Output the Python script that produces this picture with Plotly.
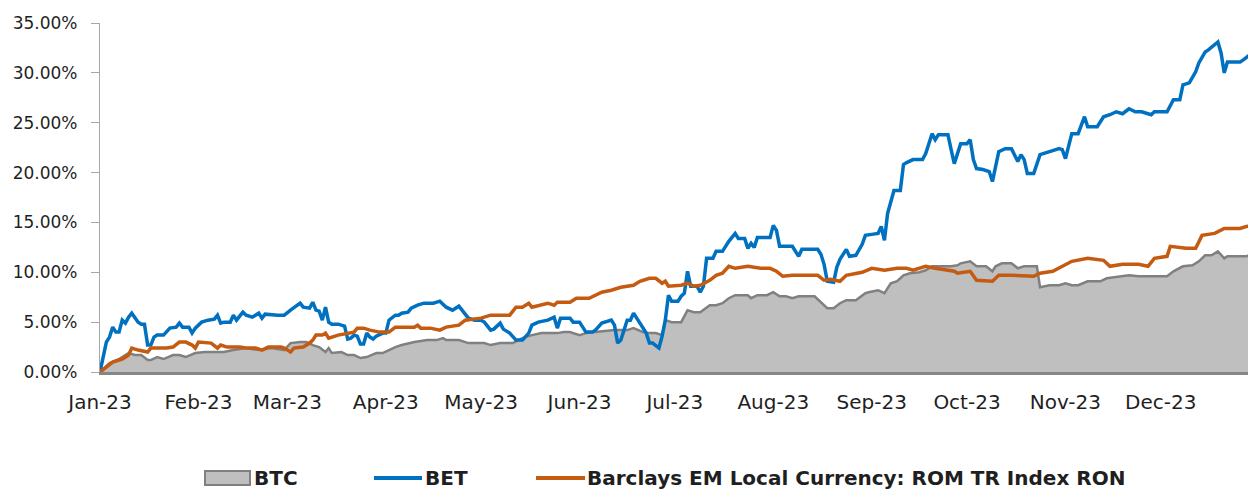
import pandas as pd
import plotly.graph_objects as go

# ---------------- data (days since 1 Jan 2023, cumulative return in %) ----------------
btc_day = [0, 3, 6, 9, 11, 13, 15, 16, 18, 20, 23, 25, 27, 30, 33, 39, 42, 46, 50, 54, 58, 60, 63, 65, 67, 69,
           71, 72, 73, 76, 78, 80, 82, 84, 87, 89, 91, 93, 95, 99, 103, 106, 108, 109, 113, 116, 121, 123, 126,
           130, 133, 136, 139, 144, 146, 148, 151, 153, 156, 162, 166, 168, 171, 172, 175, 177, 178, 180, 183,
           185, 187, 189, 192, 194, 196, 198, 200, 204, 205, 207, 210, 212, 214, 216, 218, 220, 225, 227, 229,
           231, 233, 235, 238, 241, 242, 245, 247, 249, 251, 253, 255, 258, 260, 262, 268, 270, 271, 274, 276,
           279, 281, 282, 284, 287, 289, 291, 295, 296, 299, 302, 304, 306, 308, 311, 315, 317, 321, 324, 327,
           336, 338, 341, 344, 346, 348, 350, 352, 354, 355, 361, 363, 364]
btc_pct = [0.0, 0.9, 1.3, 1.9, 1.7, 1.7, 1.2, 1.2, 1.5, 1.3, 1.7, 1.7, 1.5, 1.9, 2.0, 2.0, 2.2, 2.4, 2.2, 2.4, 2.2,
           2.9, 3.0, 3.0, 2.7, 2.5, 2.0, 2.4, 1.9, 2.0, 1.7, 1.7, 1.4, 1.5, 1.9, 1.9, 2.2, 2.5, 2.7, 3.0, 3.2, 3.2,
           3.4, 3.2, 3.2, 2.9, 2.9, 2.7, 2.9, 2.9, 3.4, 3.7, 3.9, 3.9, 4.0, 4.0, 3.7, 3.9, 4.0, 4.2, 4.2, 4.4, 4.0,
           3.9, 3.9, 3.7, 5.2, 5.0, 5.0, 6.2, 6.0, 6.0, 6.7, 6.7, 6.9, 7.4, 7.7, 7.7, 7.4, 7.7, 7.7, 8.0, 7.6, 7.6,
           7.4, 7.6, 7.6, 7.0, 6.4, 6.4, 6.9, 7.2, 7.2, 7.9, 8.0, 8.2, 7.9, 8.9, 9.1, 9.7, 9.9, 10.0, 10.2, 10.6,
           10.6, 10.7, 10.9, 11.1, 10.6, 10.6, 10.1, 10.6, 10.9, 10.9, 10.4, 10.6, 10.6, 8.5, 8.7, 8.7, 8.9, 8.7,
           8.7, 9.1, 9.1, 9.4, 9.6, 9.7, 9.6, 9.6, 10.1, 10.6, 10.7, 11.1, 11.7, 11.7, 12.1, 11.4, 11.6, 11.6,
           11.9, 11.9]

bet_day = [0, 2, 3, 4, 5, 6, 7, 8, 9, 10, 12, 13, 14, 15, 16, 17, 18, 20, 22, 24, 25, 26, 28, 29, 30, 32, 34, 36,
           37, 38, 39, 41, 42, 43, 45, 46, 48, 50, 51, 52, 56, 58, 60, 61, 63, 64, 66, 67, 68, 69, 70, 71, 72, 73,
           75, 77, 78, 79, 80, 81, 82, 83, 84, 85, 86, 87, 89, 90, 91, 93, 94, 95, 97, 98, 100, 102, 105, 107, 109,
           111, 113, 114, 116, 118, 120, 121, 123, 124, 126, 127, 129, 131, 133, 135, 136, 138, 141, 143, 144, 145,
           148, 149, 151, 153, 155, 156, 158, 161, 162, 163, 164, 166, 167, 168, 170, 172, 173, 174, 176, 177, 178,
           179, 180, 182, 183, 184, 185, 186, 188, 189, 190, 191, 193, 194, 196, 198, 200, 201, 203, 204, 205, 206,
           207, 211, 212, 213, 214, 218, 220, 221, 226, 227, 228, 229, 231, 232, 233, 235, 236, 238, 240, 241, 243,
           245, 246, 247, 248, 250, 252, 253, 254, 256, 259, 260, 262, 263, 264, 267, 268, 269, 271, 273, 274, 275,
           276, 278, 280, 281, 282, 283, 285, 287, 289, 290, 291, 292, 294, 295, 296, 299, 302, 303, 304, 306, 308,
           310, 311, 314, 316, 318, 320, 322, 324, 326, 328, 331, 332, 336, 338, 340, 341, 343, 345, 346, 348, 349,
           352, 353, 354, 355, 359, 360, 362, 364]
bet_pct = [0.0, 3.0, 3.5, 4.5, 4.0, 4.0, 5.2, 4.9, 5.5, 5.9, 5.0, 4.8, 4.8, 2.7, 2.7, 3.5, 3.7, 3.7, 4.4, 4.5, 4.9,
           4.5, 4.5, 3.9, 4.4, 5.0, 5.2, 5.3, 5.7, 4.9, 5.0, 5.0, 5.7, 5.2, 6.0, 5.7, 5.5, 5.9, 5.4, 5.8, 5.7, 5.7,
           6.2, 6.4, 6.9, 6.5, 6.4, 7.0, 6.2, 6.1, 5.2, 6.5, 5.0, 4.8, 4.8, 4.6, 3.3, 3.4, 3.7, 3.6, 2.8, 2.8, 3.9,
           3.5, 3.3, 3.6, 3.9, 3.9, 5.2, 5.7, 5.7, 5.9, 6.0, 6.4, 6.7, 6.9, 6.9, 7.1, 6.5, 6.2, 6.6, 6.2, 5.4, 5.2,
           5.2, 5.0, 4.2, 4.3, 4.9, 4.3, 3.9, 3.2, 3.2, 3.9, 4.7, 5.0, 5.2, 5.5, 4.4, 5.4, 5.4, 5.0, 5.0, 4.0, 4.0,
           4.2, 4.9, 5.2, 4.7, 2.9, 3.2, 5.2, 5.2, 5.9, 4.9, 3.9, 2.9, 2.9, 2.4, 3.6, 5.2, 7.7, 7.1, 7.1, 7.6, 7.9,
           10.1, 8.6, 8.6, 8.0, 8.6, 11.4, 11.4, 12.1, 12.1, 13.1, 13.9, 13.4, 13.4, 12.4, 12.9, 12.5, 13.5, 13.5,
           14.7, 14.2, 12.6, 12.6, 11.6, 12.3, 12.3, 11.8, 10.8, 9.1, 9.0, 10.5, 11.3, 12.3, 11.6, 11.7, 12.8, 13.7,
           13.8, 13.9, 14.6, 13.2, 15.9, 18.2, 18.2, 20.8, 21.0, 21.3, 21.3, 21.9, 23.9, 23.3, 23.8, 23.8, 22.3,
           20.9, 22.9, 22.9, 23.3, 21.3, 20.4, 20.3, 20.1, 19.1, 20.6, 22.1, 22.4, 22.4, 21.1, 21.8, 21.3, 19.9,
           19.9, 20.9, 21.8, 22.1, 22.4, 22.3, 21.4, 23.9, 23.9, 25.6, 24.6, 24.6, 25.6, 25.8, 26.1, 25.9, 26.4,
           26.1, 26.1, 25.8, 26.1, 26.1, 27.3, 27.3, 28.8, 29.0, 30.1, 31.0, 32.1, 32.3, 33.1, 32.0, 30.0, 31.1,
           31.1, 31.3, 31.8, 31.8]

rom_day = [0, 2, 4, 6, 7, 9, 10, 12, 15, 16, 21, 23, 25, 27, 29, 30, 31, 35, 37, 38, 40, 44, 46, 49, 51, 53, 57,
           58, 60, 61, 64, 66, 67, 68, 70, 71, 72, 75, 78, 80, 81, 83, 85, 88, 91, 93, 99, 100, 101, 104, 107, 109,
           113, 115, 120, 123, 129, 131, 133, 135, 136, 139, 141, 143, 144, 148, 150, 154, 156, 158, 161, 164, 168,
           170, 173, 175, 177, 178, 179, 183, 185, 187, 189, 192, 194, 196, 198, 200, 204, 208, 211, 213, 215, 218,
           226, 228, 230, 233, 235, 238, 240, 243, 247, 251, 254, 256, 258, 260, 263, 267, 269, 270, 274, 276, 281,
           283, 287, 294, 296, 300, 303, 306, 311, 316, 318, 322, 327, 330, 332, 336, 337, 342, 345, 347, 351, 354,
           359, 361, 363, 364]
rom_pct = [0.0, 0.5, 1.0, 1.2, 1.3, 1.7, 2.4, 2.2, 2.0, 2.4, 2.4, 2.5, 3.0, 3.0, 2.7, 2.4, 3.0, 2.9, 2.4, 2.7, 2.5,
           2.5, 2.4, 2.4, 2.2, 2.5, 2.5, 2.4, 2.0, 2.4, 2.5, 2.9, 3.2, 3.7, 3.7, 3.9, 3.4, 3.7, 3.9, 4.0, 4.4, 4.4,
           4.2, 4.0, 4.0, 4.5, 4.5, 4.7, 4.4, 4.4, 4.2, 4.5, 4.7, 5.2, 5.4, 5.7, 5.7, 6.5, 6.5, 6.9, 6.5, 6.7, 6.9,
           6.7, 7.0, 7.0, 7.4, 7.4, 7.7, 8.0, 8.2, 8.5, 8.7, 9.1, 9.4, 9.4, 8.9, 9.1, 8.6, 8.7, 8.9, 8.6, 8.7, 9.2,
           9.7, 9.9, 10.6, 10.4, 10.6, 10.4, 10.4, 10.1, 9.6, 9.7, 9.7, 9.2, 9.3, 9.1, 9.7, 9.9, 10.0, 10.4, 10.2,
           10.4, 10.4, 10.2, 10.4, 10.6, 10.4, 10.2, 10.1, 9.9, 10.1, 9.2, 9.1, 9.7, 9.7, 9.6, 9.9, 10.1, 10.6,
           11.1, 11.4, 11.2, 10.6, 10.8, 10.8, 10.6, 11.4, 11.6, 12.6, 12.4, 12.4, 13.7, 13.9, 14.4, 14.4, 14.6,
           14.7, 14.7]

series_names = ["BTC", "BET", "Barclays EM Local Currency: ROM TR Index RON"]
month_ticks = ["2023-01-01", "2023-02-01", "2023-03-01", "2023-04-01", "2023-05-01", "2023-06-01",
               "2023-07-01", "2023-08-01", "2023-09-01", "2023-10-01", "2023-11-01", "2023-12-01"]
month_labels = ["Jan-23", "Feb-23", "Mar-23", "Apr-23", "May-23", "Jun-23",
                "Jul-23", "Aug-23", "Sep-23", "Oct-23", "Nov-23", "Dec-23"]

BASE = pd.Timestamp("2023-01-01")


def to_dates(days):
    return [BASE + pd.Timedelta(days=d) for d in days]


def to_frac(pcts):
    return [p / 100.0 for p in pcts]


# ---------------- style ----------------
C_FILL, C_FILL_LINE = "#bfbfbf", "#808080"
C_BET, C_ROM = "#0070c0", "#c55a11"
TXT = "#1f1f1f"
FONT = "DejaVu Sans"

# page body has an 8px default margin: size the figure so it fits the 1256x499 window
OFF = 8
W, H = 1256 - OFF, 499 - 2 * OFF
PLOT_L, PLOT_T, PLOT_B, PLOT_R = 100, 23, 372, 1256   # target plot box in window pixels
M_L, M_T = PLOT_L - OFF, PLOT_T - OFF
M_B = H - (PLOT_B - OFF)
M_R = W - (PLOT_R - OFF)

fig = go.Figure()
fig.add_trace(go.Scatter(x=to_dates(btc_day), y=to_frac(btc_pct), name=series_names[0], mode="lines",
                         fill="tozeroy", fillcolor=C_FILL, line=dict(color=C_FILL_LINE, width=2.5),
                         showlegend=False))
fig.add_trace(go.Scatter(x=to_dates(bet_day), y=to_frac(bet_pct), name=series_names[1], mode="lines",
                         line=dict(color=C_BET, width=3.5), showlegend=False))
fig.add_trace(go.Scatter(x=to_dates(rom_day), y=to_frac(rom_pct), name=series_names[2], mode="lines",
                         line=dict(color=C_ROM, width=3.5), showlegend=False))

# ---------------- legend drawn below the plot (window pixel -> paper helpers) ----------------
PW, PH = PLOT_R - PLOT_L, PLOT_B - PLOT_T


def px(xp):
    return (xp - PLOT_L) / PW


def py(yp):
    return (PLOT_B - yp) / PH


LEG_Y = 478
shapes = [
    dict(type="rect", xref="paper", yref="paper", x0=px(205), x1=px(250), y0=py(LEG_Y - 7), y1=py(LEG_Y + 7),
         fillcolor=C_FILL, line=dict(color=C_FILL_LINE, width=2)),
    dict(type="line", xref="paper", yref="paper", x0=px(374), x1=px(422), y0=py(LEG_Y), y1=py(LEG_Y),
         line=dict(color=C_BET, width=4)),
    dict(type="line", xref="paper", yref="paper", x0=px(536), x1=px(585), y0=py(LEG_Y), y1=py(LEG_Y),
         line=dict(color=C_ROM, width=4)),
]
leg_text_x = [253, 424, 586]
annotations = [
    dict(text=name, x=px(tx), y=py(LEG_Y), xref="paper", yref="paper", xanchor="left", yanchor="middle",
         showarrow=False, borderpad=0, font=dict(family=FONT, size=20, color=TXT, weight="bold"))
    for name, tx in zip(series_names, leg_text_x)
]

fig.update_layout(
    width=W, height=H,
    margin=dict(l=M_L, r=M_R, t=M_T, b=M_B, pad=0),
    paper_bgcolor="white", plot_bgcolor="white",
    shapes=shapes, annotations=annotations,
    xaxis=dict(
        type="date", range=[BASE, BASE + pd.Timedelta(days=364)],
        tickvals=month_ticks, ticktext=month_labels,
        showgrid=False, zeroline=False,
        showline=True, linecolor="#868686", linewidth=2.5,
        ticks="", ticklabelstandoff=10,
        tickfont=dict(family=FONT, size=20, color=TXT),
    ),
    yaxis=dict(
        range=[0, 0.35], dtick=0.05, tickformat=".2%",
        showgrid=False, zeroline=False,
        showline=True, linecolor="#a6a6a6", linewidth=1.25,
        ticks="outside", ticklen=8, tickcolor="#a6a6a6", tickwidth=1.25,
        ticklabelstandoff=10,
        tickfont=dict(family=FONT, size=17, color=TXT),
    ),
)

fig.write_html("out.html")
